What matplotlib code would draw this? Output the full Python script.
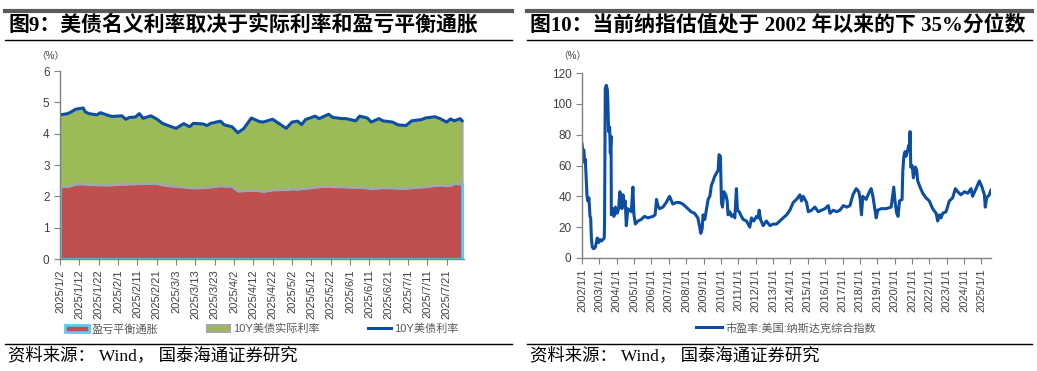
import matplotlib
matplotlib.use('Agg')
from matplotlib import pyplot as plt
from matplotlib.lines import Line2D
from matplotlib.patches import Patch
import pandas as pd

plt.rcParams['font.family'] = ['Liberation Sans', 'Noto Sans CJK SC']

# left chart: 10Y treasury yield and breakeven inflation, 2025
us_dates = ['2025-01-02', '2025-01-06', '2025-01-08', '2025-01-10', '2025-01-14',
            '2025-01-15', '2025-01-17', '2025-01-21', '2025-01-23', '2025-01-27',
            '2025-01-29', '2025-02-03', '2025-02-05', '2025-02-07', '2025-02-10',
            '2025-02-12', '2025-02-14', '2025-02-18', '2025-02-21', '2025-02-24',
            '2025-02-26', '2025-03-03', '2025-03-07', '2025-03-10', '2025-03-12',
            '2025-03-17', '2025-03-19', '2025-03-21', '2025-03-26', '2025-03-28',
            '2025-04-01', '2025-04-04', '2025-04-07', '2025-04-11', '2025-04-15',
            '2025-04-17', '2025-04-22', '2025-04-29', '2025-05-02', '2025-05-05',
            '2025-05-07', '2025-05-09', '2025-05-14', '2025-05-16', '2025-05-21',
            '2025-05-23', '2025-05-28', '2025-05-30', '2025-06-04', '2025-06-06',
            '2025-06-10', '2025-06-12', '2025-06-16', '2025-06-18', '2025-06-23',
            '2025-06-26', '2025-06-30', '2025-07-03', '2025-07-08', '2025-07-10',
            '2025-07-15', '2025-07-18', '2025-07-21', '2025-07-23', '2025-07-25',
            '2025-07-28', '2025-07-29']
us_10y = [4.60, 4.64, 4.70, 4.78, 4.82, 4.70, 4.64, 4.60, 4.67, 4.58,
          4.55, 4.57, 4.46, 4.52, 4.53, 4.64, 4.49, 4.57, 4.47, 4.33,
          4.28, 4.17, 4.32, 4.22, 4.33, 4.31, 4.26, 4.33, 4.40, 4.28,
          4.22, 4.03, 4.16, 4.50, 4.39, 4.37, 4.46, 4.17, 4.37, 4.40,
          4.29, 4.45, 4.56, 4.48, 4.62, 4.52, 4.48, 4.48, 4.41, 4.56,
          4.50, 4.37, 4.48, 4.41, 4.37, 4.28, 4.26, 4.41, 4.45, 4.50,
          4.54, 4.47, 4.37, 4.47, 4.41, 4.48, 4.41]
us_breakeven = [2.32, 2.33, 2.36, 2.40, 2.41, 2.40, 2.39, 2.38, 2.38, 2.37,
                2.38, 2.40, 2.40, 2.41, 2.41, 2.42, 2.42, 2.43, 2.42, 2.38,
                2.36, 2.33, 2.31, 2.29, 2.28, 2.29, 2.30, 2.31, 2.35, 2.34,
                2.33, 2.18, 2.19, 2.21, 2.19, 2.17, 2.22, 2.23, 2.25, 2.24,
                2.26, 2.27, 2.30, 2.32, 2.33, 2.32, 2.32, 2.31, 2.30, 2.30,
                2.28, 2.26, 2.28, 2.29, 2.28, 2.27, 2.27, 2.29, 2.31, 2.32,
                2.36, 2.37, 2.35, 2.36, 2.42, 2.41, 2.41]

# right chart: Nasdaq Composite PE
pe_years = [2002.00, 2002.06, 2002.11, 2002.15, 2002.19, 2002.23, 2002.29, 2002.34,
            2002.40, 2002.46, 2002.50, 2002.54, 2002.59, 2002.67, 2002.77, 2002.88,
            2002.96, 2003.03, 2003.11, 2003.21, 2003.28, 2003.30, 2003.34, 2003.40,
            2003.46, 2003.49, 2003.53, 2003.59, 2003.63, 2003.67, 2003.69, 2003.76,
            2003.84, 2003.92, 2004.03, 2004.11, 2004.18, 2004.24, 2004.30, 2004.36,
            2004.41, 2004.49, 2004.55, 2004.64, 2004.84, 2004.93, 2004.99, 2005.07,
            2005.22, 2005.41, 2005.60, 2005.79, 2006.08, 2006.21, 2006.29, 2006.37,
            2006.46, 2006.66, 2006.85, 2007.04, 2007.23, 2007.42, 2007.61, 2007.80,
            2008.00, 2008.28, 2008.48, 2008.67, 2008.78, 2008.84, 2008.92, 2008.97,
            2009.07, 2009.16, 2009.26, 2009.36, 2009.45, 2009.55, 2009.64, 2009.74,
            2009.84, 2009.89, 2009.97, 2010.03, 2010.09, 2010.17, 2010.28, 2010.36,
            2010.41, 2010.51, 2010.61, 2010.70, 2010.80, 2010.89, 2010.95, 2011.05,
            2011.18, 2011.28, 2011.47, 2011.66, 2011.76, 2011.89, 2012.05, 2012.14,
            2012.20, 2012.28, 2012.43, 2012.62, 2012.82, 2013.01, 2013.20, 2013.39,
            2013.58, 2013.78, 2013.97, 2014.16, 2014.35, 2014.55, 2014.64, 2014.74,
            2014.93, 2015.03, 2015.22, 2015.41, 2015.60, 2015.79, 2015.99, 2016.18,
            2016.28, 2016.47, 2016.66, 2016.85, 2017.05, 2017.24, 2017.43, 2017.60,
            2017.79, 2017.94, 2018.02, 2018.09, 2018.17, 2018.36, 2018.55, 2018.65,
            2018.75, 2018.86, 2018.94, 2019.03, 2019.23, 2019.51, 2019.80, 2019.95,
            2020.03, 2020.12, 2020.20, 2020.28, 2020.43, 2020.47, 2020.53, 2020.60,
            2020.66, 2020.76, 2020.81, 2020.85, 2020.89, 2020.93, 2021.01, 2021.08,
            2021.20, 2021.27, 2021.33, 2021.43, 2021.62, 2021.81, 2022.00, 2022.19,
            2022.39, 2022.48, 2022.58, 2022.67, 2022.77, 2022.96, 2023.15, 2023.34,
            2023.50, 2023.63, 2023.82, 2024.02, 2024.21, 2024.40, 2024.49, 2024.69,
            2024.88, 2025.03, 2025.17, 2025.22, 2025.30, 2025.45, 2025.55]
pe_values = [74, 69, 70, 62, 64, 54, 40, 37,
             39, 27, 26, 13, 7, 6, 7, 13,
             10, 12, 11, 12, 13, 24, 110, 112,
             109, 101, 82, 85, 68, 79, 28, 32,
             27, 33, 29, 32, 43, 40, 32, 41,
             34, 37, 21, 32, 30, 46, 28, 22,
             24, 25, 27, 26, 27, 28, 38, 34,
             32, 33, 36, 40, 35, 36, 36, 35,
             33, 30, 29, 26, 20, 16, 19, 28,
             25, 31, 38, 40, 47, 50, 53, 55,
             57, 67, 66, 36, 33, 43, 41, 37,
             28, 30, 27, 28, 26, 45, 31, 30,
             27, 25, 24, 20, 26, 24, 27, 26,
             31, 25, 21, 24, 21, 22, 22, 24,
             26, 28, 31, 36, 38, 41, 37, 40,
             36, 30, 31, 33, 30, 31, 32, 34,
             29, 31, 30, 31, 34, 33, 34, 41,
             45, 43, 38, 28, 40, 38, 43, 45,
             40, 32, 26, 31, 32, 32, 33, 46,
             36, 29, 27, 37, 38, 56, 66, 69,
             66, 70, 73, 70, 82, 59, 60, 52,
             59, 57, 50, 47, 42, 39, 37, 32,
             29, 24, 28, 26, 29, 30, 37, 39,
             45, 43, 41, 43, 42, 45, 40, 45,
             50, 46, 41, 33, 39, 41, 44]

RED = '#C0504D'
GREEN = '#9BBB59'
BLUE = '#0B4EA2'
LIGHTBLUE = '#5BC8F5'
GREY = '#A6A6A6'
TXT = '#404040'

W, H = 1037, 371
fig = plt.figure(figsize=(W / 100, H / 100), dpi=100)


def fx(px):
    return px / W


def fy(py):
    return 1 - py / H


def hline(x0, x1, y, lw, color):
    fig.add_artist(Line2D([fx(x0), fx(x1)], [fy(y), fy(y)],
                          transform=fig.transFigure, lw=lw, color=color))


def style_axes(ax):
    for s in ['top', 'right']:
        ax.spines[s].set_visible(False)
    for s in ['left', 'bottom']:
        ax.spines[s].set_color('#808080')
        ax.spines[s].set_linewidth(1.0)
    ax.tick_params(axis='both', colors='#808080', labelcolor=TXT, length=4, width=0.8)
    ax.tick_params(axis='y', labelsize=8.5)
    ax.tick_params(axis='x', labelsize=8, rotation=90)


title_font = ['Liberation Serif', 'Noto Sans CJK SC']

# frame lines and titles
hline(5, 512, 11, 3, '#5a5a5a')
hline(527, 1032, 11, 3, '#5a5a5a')
hline(5, 512, 39.5, 1, 'black')
hline(527, 1032, 39.5, 1, 'black')
hline(5, 512, 344, 1, 'black')
hline(527, 1032, 344, 1, 'black')

fig.text(fx(9), fy(25), '图9：美债名义利率取决于实际利率和盈亏平衡通胀', family=title_font,
         fontsize=15, fontweight='bold', va='center', ha='left')
fig.text(fx(530), fy(25), '图10：当前纳指估值处于 2002 年以来的下 35%分位数', family=title_font,
         fontsize=15, fontweight='bold', va='center', ha='left')
fig.text(fx(8), fy(356), '资料来源： Wind， 国泰海通证券研究', family=title_font,
         fontsize=12.5, va='center', ha='left')
fig.text(fx(530), fy(356), '资料来源： Wind， 国泰海通证券研究', family=title_font,
         fontsize=12.5, va='center', ha='left')

# ---- left chart
ax1 = fig.add_axes([fx(60), fy(259), fx(464) - fx(60), fy(71) - fy(259)])
dates = pd.to_datetime(us_dates)
real = [a - b for a, b in zip(us_10y, us_breakeven)]
polys = ax1.stackplot(dates, us_breakeven, real, colors=[RED, GREEN])
polys[0].set_edgecolor(LIGHTBLUE)
polys[0].set_linewidth(2)
polys[1].set_edgecolor(GREY)
polys[1].set_linewidth(1.5)
ax1.plot(dates, us_10y, color=BLUE, lw=2.2)
ax1.set_xlim(dates[0], pd.Timestamp('2025-07-30'))
ax1.set_ylim(0, 6)
ax1.set_yticks(range(0, 7))
ticks = pd.date_range('2025-01-02', '2025-07-21', freq='10D')
ax1.set_xticks(ticks)
ax1.set_xticklabels([f'{d.year}/{d.month}/{d.day}' for d in ticks])
style_axes(ax1)
fig.text(fx(50), fy(56), '（%）', fontsize=7, color=TXT, ha='center', va='center')

handles = [Patch(facecolor=RED, edgecolor=LIGHTBLUE, lw=2),
           Patch(facecolor=GREEN, edgecolor=GREY, lw=1.5),
           Line2D([], [], color=BLUE, lw=2.2)]
ax1.legend(handles, ['盈亏平衡通胀', '10Y美债实际利率', '10Y美债利率'],
           loc='center', bbox_to_anchor=(fx(262), fy(329)), bbox_transform=fig.transFigure,
           ncol=3, frameon=False, fontsize=8, handlelength=2.1, handleheight=0.7,
           columnspacing=4.3, handletextpad=0.3, labelcolor='#595959')

# ---- right chart
ax2 = fig.add_axes([fx(582), fy(258), fx(991) - fx(582), fy(73) - fy(258)])
ax2.plot(pe_years, pe_values, color=BLUE, lw=2.2)
ax2.set_xlim(2002, 2025.55)
ax2.set_ylim(0, 120)
ax2.set_yticks(range(0, 121, 20))
years = list(range(2002, 2026))
ax2.set_xticks(years)
ax2.set_xticklabels([f'{y}/1/1' for y in years])
style_axes(ax2)
fig.text(fx(572), fy(56), '（%）', fontsize=7, color=TXT, ha='center', va='center')
ax2.legend([Line2D([], [], color=BLUE, lw=2.2)], ['市盈率:美国:纳斯达克综合指数'],
           loc='center', bbox_to_anchor=(fx(786), fy(328)), bbox_transform=fig.transFigure,
           frameon=False, fontsize=8, handlelength=2.3, handletextpad=0.3, labelcolor='#595959')

fig.savefig('out.png', dpi=100)
